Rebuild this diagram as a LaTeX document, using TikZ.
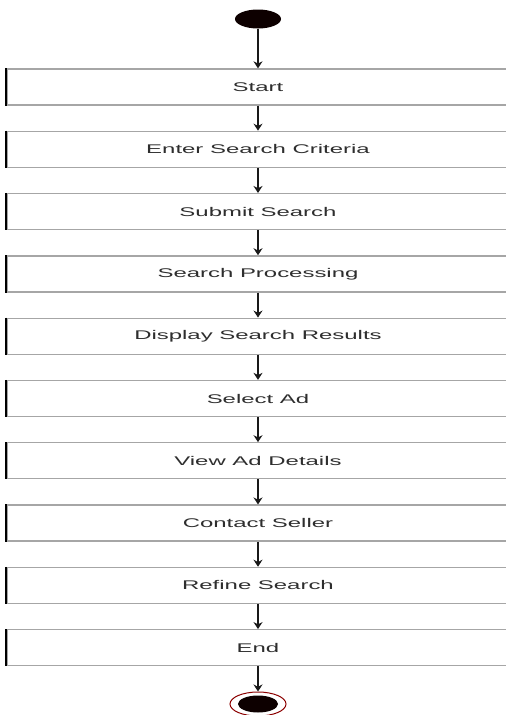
\documentclass[tikz,border=0pt]{standalone}
\usepackage{fontspec}
\setmainfont{Liberation Sans}
\usepackage{graphicx}
\usetikzlibrary{arrows.meta,shapes.geometric}
\begin{document}
\begin{tikzpicture}[x=1pt,y=-1pt,
  act/.style={draw=gray!70, line width=1.3pt, minimum width=502pt, minimum height=36pt,
    inner sep=0pt, font=\fontsize{12.6}{14}\selectfont, text=black!82},
  leftedge/.style={draw=black, line width=1.8pt},
  flow/.style={-{Stealth[width=9pt,length=7pt]}, line width=1.3pt, draw=black!90},
  initial/.style={ellipse, fill=black!95!red, minimum width=46pt, minimum height=19pt, inner sep=0pt},
  final/.style={ellipse, draw=red!55!black, line width=1pt, fill=white, minimum width=56pt, minimum height=24pt, inner sep=0pt}]
\useasboundingbox (0,0) rectangle (506,715);
\clip (0,0) rectangle (506,715);
\fill[white] (0,0) rectangle (506,715);

\node[initial] (init) at (258,19) {};

\foreach \name/\txt [count=\i from 0] in {
  a0/Start, a1/Enter Search Criteria, a2/Submit Search, a3/Search Processing,
  a4/Display Search Results, a5/Select Ad, a6/View Ad Details, a7/Contact Seller,
  a8/Refine Search, a9/End} {
  \node[act] (\name) at (258, 87+62.3*\i) {\scalebox{1.9}[1]{\txt}};
  \draw[leftedge] (\name.north west) -- (\name.south west);
}

\node[final] (fin) at (258,704) {};
\fill[black!95!red] (fin.center) ellipse [x radius=20pt, y radius=8.5pt];

\draw[flow] (init) -- (a0);
\foreach \p/\q in {a0/a1,a1/a2,a2/a3,a3/a4,a4/a5,a5/a6,a6/a7,a7/a8,a8/a9} {
  \draw[flow] (\p) -- (\q);
}
\draw[flow] (a9.south) -- (fin.north);
\end{tikzpicture}
\end{document}
